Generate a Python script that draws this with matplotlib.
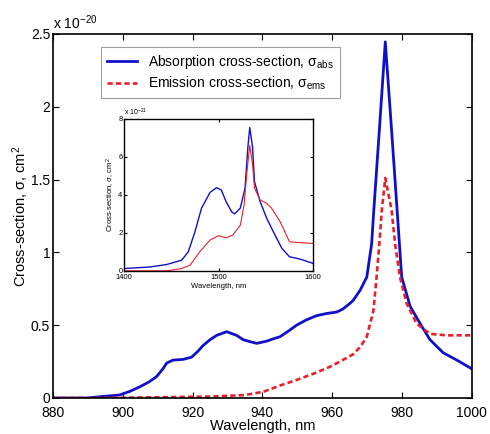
import matplotlib
matplotlib.use("Agg")
import matplotlib.pyplot as plt
from matplotlib.ticker import FuncFormatter

plt.rcParams["font.family"] = ["Liberation Sans", "DejaVu Sans"]
plt.rcParams["mathtext.fontset"] = "custom"
plt.rcParams["mathtext.rm"] = "Liberation Sans"
plt.rcParams["mathtext.it"] = "Liberation Sans:italic"

# main plot: 880-1000 nm, cross-section in units of 1e-20 cm^2
abs_wl = [880, 890, 893.5, 896, 899, 902, 905, 907.5, 909.7, 911.5, 912.6, 914.4,
          917.3, 919.7, 921.5, 923, 925, 926.9, 929.8, 932.6, 934.5, 936.4, 938.4,
          941.2, 943, 945, 947.5, 949.8, 952.5, 955.5, 958.4, 961.3, 963, 965.1,
          966.0, 968, 969.9, 971.3, 971.8, 973.5, 975.2, 977.0, 978.7, 979.9,
          982.3, 985.2, 988.0, 991.8, 995.7, 1000]
abs_val = [0, 0, 0.009, 0.014, 0.02, 0.045, 0.078, 0.11, 0.147, 0.2, 0.24, 0.26,
           0.265, 0.28, 0.32, 0.36, 0.40, 0.43, 0.455, 0.43, 0.40, 0.387, 0.375,
           0.39, 0.405, 0.42, 0.46, 0.50, 0.535, 0.565, 0.58, 0.59, 0.61, 0.65,
           0.67, 0.74, 0.83, 1.06, 1.25, 1.84, 2.445, 1.84, 1.25, 0.83,
           0.63, 0.51, 0.40, 0.31, 0.26, 0.20]

ems_wl = [880, 893, 910, 925, 935, 940.3, 945, 949.8, 955, 959.4, 962.2, 966.0,
          968, 969.9, 971.8, 972.7, 973.5, 974.2, 975.2, 977.0, 978.0, 979.4,
          981.3, 984.2, 988.0, 992.8, 1000]
ems_val = [0, 0, 0.005, 0.01, 0.02, 0.043, 0.085, 0.124, 0.17, 0.215, 0.25, 0.30,
           0.35, 0.42, 0.60, 0.83, 1.06, 1.29, 1.51, 1.29, 1.06, 0.83,
           0.65, 0.51, 0.44, 0.43, 0.43]

# inset: 1400-1600 nm, units of 1e-21 cm^2
in_abs_wl = [1400, 1427, 1445, 1461, 1468, 1475, 1482, 1491, 1498, 1503, 1508,
             1514, 1517, 1523, 1528, 1531, 1533, 1536, 1538, 1544, 1551, 1558,
             1567, 1575, 1586, 1600]
in_abs_val = [0.12, 0.2, 0.33, 0.56, 1.0, 2.05, 3.3, 4.13, 4.38, 4.25, 3.64,
              3.1, 3.0, 3.3, 4.35, 6.5, 7.55, 6.5, 4.7, 3.64, 2.76, 2.05,
              1.18, 0.74, 0.62, 0.39]
in_ems_wl = [1400, 1445, 1461, 1470, 1480, 1491, 1500, 1508, 1515, 1523, 1527,
             1530, 1533, 1536, 1538, 1544, 1551, 1556, 1565, 1575, 1582, 1600]
in_ems_val = [0.0, 0.0, 0.12, 0.3, 1.0, 1.62, 1.85, 1.74, 1.88, 2.4, 3.46,
              5.2, 6.6, 5.6, 4.35, 3.73, 3.55, 3.3, 2.6, 1.53, 1.5, 1.44]

blue = "#1010c8"
red = "#e8202a"
gfmt = FuncFormatter(lambda v, p: f"{v:g}")

fig = plt.figure(figsize=(4.9, 4.34), dpi=100)
ax = fig.add_axes([0.108, 0.083, 0.855, 0.839])
ax.plot(abs_wl, abs_val, color=blue, lw=2,
        label=r"Absorption cross-section, σ$_{\mathrm{abs}}$")
ax.plot(ems_wl, ems_val, color=red, lw=1.9, ls=(0, (2, 1.2)),
        label=r"Emission cross-section, σ$_{\mathrm{ems}}$")
ax.set_xlim(880, 1000)
ax.set_ylim(0, 2.5)
ax.set_xticks(range(880, 1001, 20))
ax.set_yticks([0, 0.5, 1, 1.5, 2, 2.5])
ax.yaxis.set_major_formatter(gfmt)
ax.tick_params(direction="in", top=True, right=True, labelsize=10, length=4, pad=2)
ax.tick_params(axis="x", pad=6)
ax.set_xlabel("Wavelength, nm", fontsize=10.5, labelpad=-1)
ax.set_ylabel("Cross-section, σ, cm$^2$", fontsize=10.5, labelpad=0)
ax.text(0.0, 1.005, r"x 10$^{-20}$", transform=ax.transAxes, fontsize=10,
        ha="left", va="bottom")
for s in ax.spines.values():
    s.set_linewidth(1.2)
leg = ax.legend(loc="upper left", bbox_to_anchor=(0.105, 0.975), fontsize=10,
                fancybox=False, edgecolor="#888888", handlelength=2.2,
                borderaxespad=0.3, labelspacing=0.3)
leg.get_frame().set_linewidth(0.8)

ins = fig.add_axes([0.253, 0.376, 0.386, 0.350])
ins.plot(in_abs_wl, in_abs_val, color=blue, lw=1.0)
ins.plot(in_ems_wl, in_ems_val, color=red, lw=0.8)
ins.set_xlim(1400, 1600)
ins.set_ylim(0, 8)
ins.set_xticks([1400, 1500, 1600])
ins.set_yticks([0, 2, 4, 6, 8])
ins.tick_params(direction="in", top=True, right=True, labelsize=5.5, length=2, pad=1)
ins.tick_params(axis="x", pad=2.5)
ins.set_xlabel("Wavelength, nm", fontsize=5.5, labelpad=1)
ins.set_ylabel("Cross-section, σ, cm$^2$", fontsize=5.5, labelpad=1)
ins.text(0.0, 1.005, r"x 10$^{-21}$", transform=ins.transAxes, fontsize=5,
         ha="left", va="bottom")
for s in ins.spines.values():
    s.set_linewidth(1.0)

fig.savefig("out.png", dpi=100)
